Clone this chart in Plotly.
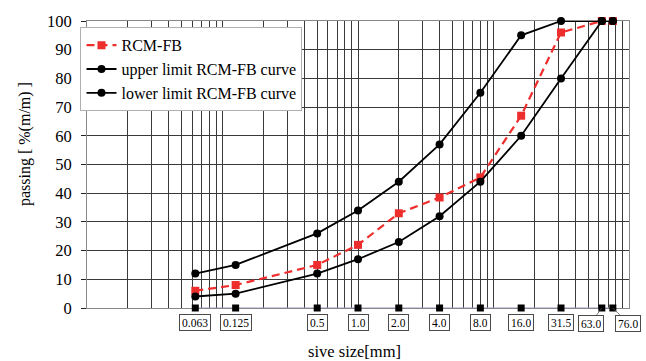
import numpy as np
import plotly.graph_objects as go

# ---- data ----
sieve_sizes = [0.063, 0.125, 0.5, 1.0, 2.0, 4.0, 8.0, 16.0, 31.5, 63.0, 76.0]
sieve_labels = ["0.063", "0.125", "0.5", "1.0", "2.0", "4.0", "8.0", "16.0", "31.5", "63.0", "76.0"]
rcm_fb = [6, 8, 15, 22, 33, 38.5, 45.5, 67, 96, 100, 100]
upper_limit = [12, 15, 26, 34, 44, 57, 75, 95, 100, 100, 100]
lower_limit = [4, 5, 12, 17, 23, 32, 44, 60, 80, 100, 100]
baseline = [0] * len(sieve_sizes)

FONT = "Liberation Serif, Times New Roman, serif"
GRID = "#3a3a3a"

fig = go.Figure()

# sieve markers along the x axis (label carriers)
fig.add_trace(go.Scatter(
    x=sieve_sizes, y=baseline, mode="lines+markers",
    line=dict(color="#9d94cf", width=1.2),
    marker=dict(symbol="square", size=7, color="black"),
    showlegend=False, hoverinfo="skip", cliponaxis=False,
))

fig.add_trace(go.Scatter(
    x=sieve_sizes, y=rcm_fb, mode="lines+markers", name="RCM-FB",
    line=dict(color="#ee2d2d", width=2.2, dash="8px,5px"),
    marker=dict(symbol="square", size=8, color="#ee2d2d"),
    cliponaxis=False,
))
fig.add_trace(go.Scatter(
    x=sieve_sizes, y=upper_limit, mode="lines+markers", name="upper limit RCM-FB curve",
    line=dict(color="black", width=1.8),
    marker=dict(symbol="circle", size=8, color="black"),
    cliponaxis=False,
))
fig.add_trace(go.Scatter(
    x=sieve_sizes, y=lower_limit, mode="lines+markers", name="lower limit RCM-FB curve",
    line=dict(color="black", width=1.8),
    marker=dict(symbol="circle", size=8, color="black"),
    cliponaxis=False,
))

# boxed sieve-size labels under the axis
annotations = []
for s, lab in zip(sieve_sizes, sieve_labels):
    a = dict(
        x=np.log10(s), y=0, xref="x", yref="y", text=lab,
        font=dict(family=FONT, size=11.5, color="black"),
        bordercolor="#4a4a4a", borderwidth=1, borderpad=2, height=11,
        bgcolor="white",
    )
    if lab == "63.0":
        a.update(showarrow=True, arrowhead=0, arrowwidth=0.8, arrowcolor="#555555",
                 ax=-11, ay=15)
    elif lab == "76.0":
        a.update(showarrow=True, arrowhead=0, arrowwidth=0.8, arrowcolor="#555555",
                 ax=15, ay=15)
    else:
        a.update(showarrow=False, yanchor="middle", yshift=-14.5)
    annotations.append(a)

# axis titles
annotations.append(dict(
    text="passing [ %(m/m) ]", xref="paper", yref="paper",
    x=-0.114, y=0.572, xanchor="center", yanchor="middle",
    textangle=-90, showarrow=False,
    font=dict(family=FONT, size=16, color="black"),
))
annotations.append(dict(
    text="sive size[mm]", xref="paper", yref="paper",
    x=0.493, y=-0.151, xanchor="center", yanchor="middle",
    showarrow=False,
    font=dict(family=FONT, size=16.5, color="black"),
))

fig.update_layout(
    width=646, height=361,
    margin=dict(l=87, r=17, t=19, b=53),
    paper_bgcolor="white", plot_bgcolor="white",
    font=dict(family=FONT, color="black"),
    annotations=annotations,
    showlegend=True,
    legend=dict(
        x=-0.012, y=0.978, xanchor="left", yanchor="top",
        bgcolor="white", bordercolor="#b0b0b0", borderwidth=1,
        font=dict(family=FONT, size=16, color="black"),
        tracegroupgap=0, itemwidth=30,
    ),
    xaxis=dict(
        type="log", range=[-2, 2],
        dtick="D1", showticklabels=False, ticks="",
        showgrid=True, gridcolor=GRID, gridwidth=1,
        showline=True, linecolor="#888888", linewidth=1, mirror=True,
        zeroline=False, layer="below traces",
    ),
    yaxis=dict(
        range=[0, 100], dtick=10,
        showgrid=True, gridcolor=GRID, gridwidth=1,
        ticks="outside", ticklen=5, tickcolor="#222222",
        ticklabelstandoff=6,
        tickfont=dict(family=FONT, size=16.5, color="black"),
        showline=True, linecolor="#888888", linewidth=1, mirror=True,
        zeroline=False, layer="below traces",
    ),
)

fig.write_html("out.html")
